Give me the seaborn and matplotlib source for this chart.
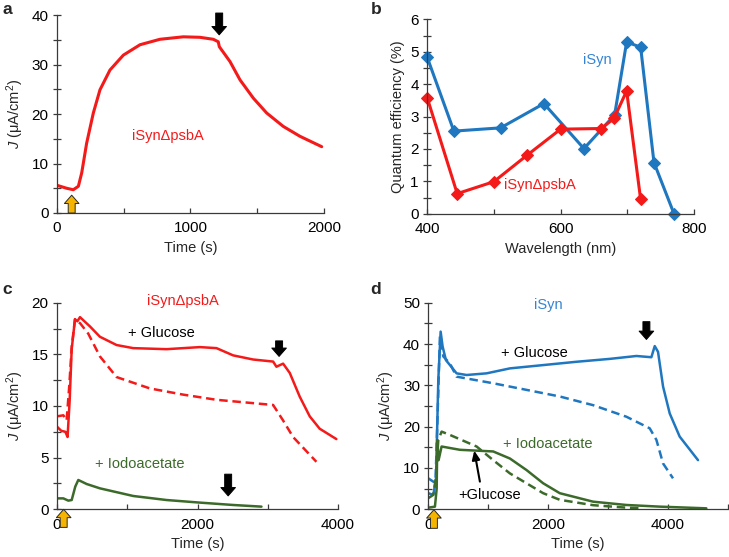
import matplotlib
matplotlib.use("Agg")
import matplotlib.pyplot as plt
import seaborn as sns
from matplotlib.ticker import MultipleLocator

# ─── Style ────────────────────────────────────────────────────────────────
sns.set_theme(style="ticks")
plt.rcParams.update({
    'font.size': 10.5,
    'axes.labelsize': 10.5,
    'xtick.labelsize': 11,
    'ytick.labelsize': 11,
    'axes.linewidth': 0.9,
    'axes.edgecolor': '#3a3a3a',
    'xtick.color': '#3a3a3a',
    'ytick.color': '#3a3a3a',
    'xtick.labelcolor': 'black',
    'ytick.labelcolor': 'black',
    'mathtext.fontset': 'custom',
    'mathtext.rm': 'Liberation Sans',
    'mathtext.it': 'Liberation Sans:italic',
})
plt.rcParams['font.family'] = ['Liberation Sans', 'DejaVu Sans']

RED = '#f41a1a'
BLUE = '#1f77c0'
BLUE_TXT = '#3584d4'
GREEN = '#3c6a2a'
YELLOW = '#f5b400'
YLABEL = r'$J$ (μA/cm$^2$)'

# ─── Data ────────────────────────────────────────────────────────────────
# a: iSynΔpsbA photocurrent
a_time = [0, 72, 122, 160, 185, 222, 272, 322, 397, 497, 622, 771, 946, 1071,
          1171, 1208, 1216, 1296, 1371, 1471, 1571, 1695, 1820, 1983]
a_j = [5.6, 5.0, 4.7, 5.4, 8.1, 14.1, 20.2, 24.9, 28.9, 31.9, 34.0, 35.1, 35.6,
       35.5, 35.1, 34.6, 33.6, 30.6, 26.9, 23.2, 20.2, 17.5, 15.5, 13.4]

# b: quantum efficiency vs wavelength
b_wl_isyn = [400, 440, 510, 575, 635, 681, 699, 720, 740, 770]
b_qe_isyn = [4.83, 2.55, 2.65, 3.40, 2.01, 3.05, 5.30, 5.14, 1.58, 0.0]
b_wl_dpsba = [400, 445, 500, 550, 600, 661, 680, 699, 720]
b_qe_dpsba = [3.58, 0.62, 0.99, 1.81, 2.61, 2.63, 2.94, 3.79, 0.44]

# c: iSynΔpsbA with glucose / iodoacetate
c_time_glc = [0, 60, 120, 150, 180, 209, 256, 290, 327, 469, 611, 848, 1085, 1559,
              2033, 2270, 2507, 2791, 3076, 3123, 3218, 3313, 3455, 3597, 3739, 3976]
c_j_glc = [8.0, 7.6, 7.5, 7.0, 10.5, 15.5, 18.4, 18.2, 18.6, 17.7, 16.7, 15.9, 15.6,
           15.5, 15.7, 15.6, 14.9, 14.5, 14.3, 13.8, 14.1, 13.2, 10.9, 9.0, 7.8, 6.8]
c_time_ctl = [0, 90, 137, 175, 209, 256, 330, 445, 611, 848, 1322, 1796, 2270,
              3076, 3218, 3360, 3692]
c_j_ctl = [9.0, 9.1, 8.6, 12.0, 15.7, 18.4, 18.0, 17.0, 14.8, 12.8, 11.7, 11.1,
           10.6, 10.1, 8.6, 7.0, 4.6]
c_time_iod = [0, 90, 161, 209, 260, 303, 422, 611, 1085, 1559, 2033, 2507, 2910]
c_j_iod = [1.06, 1.06, 0.84, 0.9, 2.2, 2.84, 2.45, 2.03, 1.29, 0.9, 0.65, 0.42, 0.26]

# d: iSyn with glucose / iodoacetate
d_time_glc = [0, 83, 128, 167, 206, 239, 294, 361, 472, 639, 972, 1361, 1917, 2472,
              3028, 3472, 3722, 3778, 3833, 3917, 4028, 4194, 4500]
d_j_glc = [3.9, 3.5, 7.1, 31.3, 43.0, 39.4, 36.1, 34.9, 32.9, 32.5, 32.9, 34.1, 34.9,
           35.7, 36.4, 37.1, 36.8, 39.5, 38.1, 29.7, 23.2, 17.6, 11.9]
d_time_ctl = [0, 83, 120, 160, 194, 250, 361, 472, 1083, 1639, 2194, 2750, 3306,
              3694, 3806, 3917, 4083]
d_j_ctl = [7.5, 6.7, 6.5, 25.0, 41.8, 37.0, 35.3, 32.1, 30.5, 28.9, 27.3, 25.2, 22.4,
           19.6, 16.8, 11.1, 7.5]
d_time_iod_glc = [0, 111, 140, 150, 172, 222, 528, 1083, 1361, 1639, 1917, 2194,
                  2750, 3306, 3861, 4639]
d_j_iod_glc = [0.4, 0.65, 5.0, 16.8, 11.9, 15.2, 14.4, 14.0, 12.3, 9.5, 6.3, 3.9,
               1.85, 1.05, 0.65, 0.24]
d_time_iod = [0, 83, 130, 167, 222, 361, 806, 1083, 1361, 1639, 1917, 2194, 2750,
              3306, 3583]
d_j_iod = [2.7, 3.5, 8.0, 16.8, 18.8, 18.0, 15.2, 11.9, 8.7, 6.3, 3.9, 2.3, 1.0,
           0.4, 0.24]


def style_axes(ax):
    sns.despine(ax=ax)
    ax.tick_params(axis='y', which='both', direction='inout', length=6, width=0.9)
    ax.tick_params(axis='x', which='both', direction='in', length=3.5, width=0.9)
    ax.tick_params(axis='y', which='major', pad=3)
    ax.tick_params(axis='x', which='major', pad=6)


def block_arrow(ax, x, y_tail, y_tip, face='black', edge='black', lw=0.7):
    ax.annotate('', xy=(x, y_tip), xytext=(x, y_tail), annotation_clip=False,
                arrowprops=dict(arrowstyle='simple,head_length=6,head_width=10.5,tail_width=5',
                                mutation_scale=1, fc=face, ec=edge, lw=lw,
                                shrinkA=0, shrinkB=0, clip_on=False),
                zorder=6)


fig = plt.figure(figsize=(7.29, 5.57), dpi=100)

# ─── Panel a ─────────────────────────────────────────────────────────────
ax_a = fig.add_axes([0.0782, 0.6176, 0.3662, 0.3554])
sns.lineplot(x=a_time, y=a_j, ax=ax_a, color=RED, lw=2.2, sort=False)
ax_a.set_xlim(0, 2000)
ax_a.set_ylim(0, 40)
ax_a.xaxis.set_major_locator(MultipleLocator(1000))
ax_a.xaxis.set_minor_locator(MultipleLocator(500))
ax_a.yaxis.set_major_locator(MultipleLocator(10))
ax_a.yaxis.set_minor_locator(MultipleLocator(5))
ax_a.set_xlabel('Time (s)')
ax_a.set_ylabel(YLABEL)
ax_a.text(834, 15.5, 'iSynΔpsbA', color=RED, ha='center', va='center')
block_arrow(ax_a, 110, 0.0, 3.6, face=YELLOW, edge='#2a2a2a')
block_arrow(ax_a, 1215, 40.4, 36.0)
style_axes(ax_a)

# ─── Panel b ─────────────────────────────────────────────────────────────
ax_b = fig.add_axes([0.586, 0.6163, 0.366, 0.349])
sns.lineplot(x=b_wl_isyn, y=b_qe_isyn, ax=ax_b, color=BLUE, lw=2.2, sort=False,
             marker='D', markersize=6, markeredgecolor=BLUE)
sns.lineplot(x=b_wl_dpsba, y=b_qe_dpsba, ax=ax_b, color=RED, lw=2.2, sort=False,
             marker='D', markersize=6, markeredgecolor=RED)
ax_b.set_xlim(400, 800)
ax_b.set_ylim(0, 6)
ax_b.xaxis.set_major_locator(MultipleLocator(200))
ax_b.xaxis.set_minor_locator(MultipleLocator(100))
ax_b.yaxis.set_major_locator(MultipleLocator(1))
ax_b.yaxis.set_minor_locator(MultipleLocator(0.5))
ax_b.set_xlabel('Wavelength (nm)')
ax_b.set_ylabel('Quantum efficiency (%)')
ax_b.text(655, 4.76, 'iSyn', color=BLUE_TXT, ha='center', va='center')
ax_b.text(569, 0.89, 'iSynΔpsbA', color=RED, ha='center', va='center')
style_axes(ax_b)
for line in ax_b.lines:
    line.set_clip_on(False)

# ─── Panel c ─────────────────────────────────────────────────────────────
ax_c = fig.add_axes([0.0782, 0.0856, 0.3855, 0.371])
sns.lineplot(x=c_time_glc, y=c_j_glc, ax=ax_c, color=RED, lw=1.8, sort=False)
sns.lineplot(x=c_time_ctl, y=c_j_ctl, ax=ax_c, color=RED, lw=1.8, sort=False,
             linestyle=(0, (3.4, 1.9)))
sns.lineplot(x=c_time_iod, y=c_j_iod, ax=ax_c, color=GREEN, lw=1.8, sort=False)
ax_c.set_xlim(0, 4000)
ax_c.set_ylim(0, 20)
ax_c.xaxis.set_major_locator(MultipleLocator(2000))
ax_c.xaxis.set_minor_locator(MultipleLocator(1000))
ax_c.yaxis.set_major_locator(MultipleLocator(5))
ax_c.yaxis.set_minor_locator(MultipleLocator(2.5))
ax_c.set_xlabel('Time (s)')
ax_c.set_ylabel(YLABEL)
ax_c.text(1796, 20.2, 'iSynΔpsbA', color=RED, ha='center', va='center')
ax_c.text(1488, 17.1, '+ Glucose', color='black', ha='center', va='center')
ax_c.text(1180, 4.4, '+ Iodoacetate', color=GREEN, ha='center', va='center')
block_arrow(ax_c, 95, -1.75, 0.0, face=YELLOW, edge='#2a2a2a')
block_arrow(ax_c, 3161, 16.3, 14.8)
block_arrow(ax_c, 2436, 3.4, 1.3)
style_axes(ax_c)

# ─── Panel d ─────────────────────────────────────────────────────────────
ax_d = fig.add_axes([0.5875, 0.0856, 0.4111, 0.371])
sns.lineplot(x=d_time_ctl, y=d_j_ctl, ax=ax_d, color=BLUE, lw=1.8, sort=False,
             linestyle=(0, (3.4, 1.9)))
sns.lineplot(x=d_time_glc, y=d_j_glc, ax=ax_d, color=BLUE, lw=1.8, sort=False)
sns.lineplot(x=d_time_iod, y=d_j_iod, ax=ax_d, color=GREEN, lw=1.8, sort=False,
             linestyle=(0, (3.4, 1.9)))
sns.lineplot(x=d_time_iod_glc, y=d_j_iod_glc, ax=ax_d, color=GREEN, lw=1.8, sort=False)
ax_d.set_xlim(0, 5000)
ax_d.set_ylim(0, 50)
ax_d.set_xticks([0, 2000, 4000])
ax_d.xaxis.set_minor_locator(MultipleLocator(1000))
ax_d.yaxis.set_major_locator(MultipleLocator(10))
ax_d.yaxis.set_minor_locator(MultipleLocator(5))
ax_d.set_xlabel('Time (s)')
ax_d.set_ylabel(YLABEL)
ax_d.text(2000, 49.4, 'iSyn', color=BLUE_TXT, ha='center', va='center')
ax_d.text(1778, 37.9, '+ Glucose', color='black', ha='center', va='center')
ax_d.text(2000, 15.8, '+ Iodoacetate', color=GREEN, ha='center', va='center')
ax_d.text(1028, 3.5, '+Glucose', color='black', ha='center', va='center')
ax_d.annotate('', xy=(767, 14.2), xytext=(861, 6.7),
              arrowprops=dict(arrowstyle='-|>,head_length=0.5,head_width=0.22',
                              color='black', lw=1.5, shrinkA=0, shrinkB=0))
block_arrow(ax_d, 94, -4.6, -0.1, face=YELLOW, edge='#2a2a2a')
block_arrow(ax_d, 3639, 45.4, 41.1)
style_axes(ax_d)

# Panel letters
for label, (x, y) in {'a': (0.003, 0.983), 'b': (0.508, 0.983),
                      'c': (0.003, 0.480), 'd': (0.508, 0.480)}.items():
    fig.text(x, y, label, fontsize=12.5, fontweight='bold', ha='left', va='center')

fig.savefig('out.png', dpi=100)
